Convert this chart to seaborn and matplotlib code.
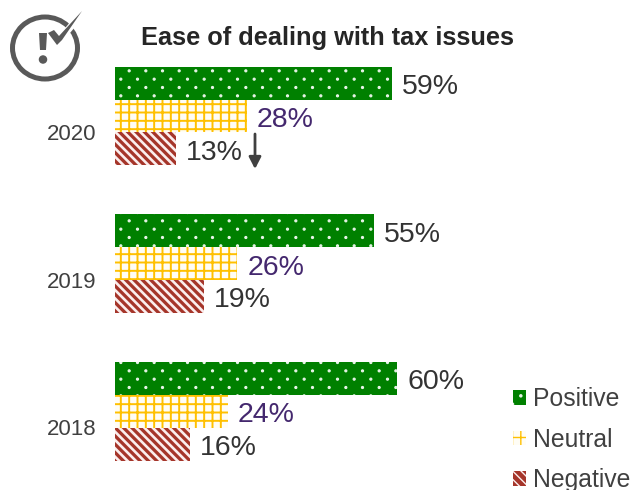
import numpy as np
import pandas as pd
import matplotlib
matplotlib.use("Agg")
import matplotlib.pyplot as plt
import matplotlib.hatch as mhatch
from matplotlib.patches import Ellipse, Patch
from matplotlib.path import Path
import seaborn as sns

years = ["2020", "2019", "2018"]
positive = [59, 55, 60]
neutral = [28, 26, 24]
negative = [13, 19, 16]
sentiments = ["Positive", "Neutral", "Negative"]
label_colors = ["#333333", "#44286e", "#333333"]
title = "Ease of dealing with tax issues"


class SparseDots(mhatch.HatchPatternBase):
    """Small round dots, staggered on alternate rows."""

    def __init__(self, hatch, density):
        self.num_rows = hatch.count(".") * density * 2
        self.columns = self.num_rows // 2
        self.radius = 0.0105
        self.num_vertices = 0
        if self.num_rows:
            self.centers = []
            for row in range(self.num_rows):
                shift = 0.25 + 0.5 * (row % 2)
                for col in range(self.columns):
                    self.centers.append(((col + shift) / self.columns,
                                         (row + 0.5) / self.num_rows))
            self.unit = Path.unit_circle()
            self.num_vertices = len(self.centers) * len(self.unit.vertices)

    def set_vertices_and_codes(self, vertices, codes):
        n = len(self.unit.vertices)
        for i, (cx, cy) in enumerate(self.centers):
            vertices[i * n:(i + 1) * n] = self.unit.vertices * self.radius + (cx, cy)
            codes[i * n:(i + 1) * n] = self.unit.codes


mhatch._hatch_types = [SparseDots if c is mhatch.SmallFilledCircles else c
                       for c in mhatch._hatch_types]

sns.set_style("white")
plt.rcParams["font.family"] = ["Liberation Sans", "DejaVu Sans"]

table = pd.DataFrame({
    "year": years * 3,
    "sentiment": np.repeat(sentiments, 3),
    "share": positive + neutral + negative,
})

fig = plt.figure(figsize=(6.34, 4.9), dpi=100)
W, H = 634, 490
ax = fig.add_axes([115 / W, 0, 519 / W, 1])

# Per-series fill treatment: (face, hatch colour, hatch, hatch width)
styles = [("#008000", "#e8f4e8", ".", 0.8),
          ("#fffdf5", "#ffc000", "++", 1.4),
          ("#a5352a", "#fbeeee", "\\\\\\\\", 1.9)]

sns.barplot(data=table, y="year", x="share", hue="sentiment", order=years,
            hue_order=sentiments, palette=[s[0] for s in styles], width=0.667,
            gap=0, saturation=1, orient="h", legend=False, ax=ax)

handles = []
for container, name, (face, ink, hatch, lw), txt in zip(ax.containers, sentiments, styles, label_colors):
    for bar in container:
        bar.set_facecolor(face)
        bar.set_edgecolor(ink)
        bar.set_hatch(hatch)
        bar.set_linewidth(0)
        bar.set_hatch_linewidth(lw)
    for note in ax.bar_label(container, fmt="%g%%", padding=7.2, fontsize=20.5, color=txt):
        note.xyann = (note.xyann[0], -2.8)
    handle = Patch(facecolor=face, edgecolor=ink, hatch=hatch, linewidth=0, label=name)
    handle.set_hatch_linewidth(lw)
    handles.append(handle)

ax.set_xlim(0, 519 / 4.7)
ax.set_ylim((H - 116) / 147.7, -116 / 147.7)
ax.set_yticks(np.arange(len(years)) + 0.107, years)
ax.tick_params(axis="y", length=0, pad=13.5, labelsize=16, labelcolor="#404040")
ax.set_xticks([])
ax.set_xlabel("")
ax.set_ylabel("")
ax.patch.set_alpha(0)
sns.despine(ax=ax, left=True, bottom=True)

ax.legend(handles=handles, loc="lower left",
          bbox_to_anchor=((513 - 115) / 519, -0.005), frameon=False,
          fontsize=17.8, labelcolor="#404040", handlelength=0.52,
          handleheight=0.52, handletextpad=0.28, labelspacing=0.67,
          borderpad=0, borderaxespad=0)

# Drop arrow beside the 2020 negative value
ax.annotate("", xy=(140 / 4.7, (169 - 116) / 147.7),
            xytext=(140 / 4.7, (134 - 116) / 147.7),
            arrowprops=dict(arrowstyle="-|>,head_width=0.36,head_length=0.7",
                            color="#404040", lw=2, shrinkA=0, shrinkB=0))

fig.text(141 / W, 1 - 37.5 / H, title, fontsize=18.3, fontweight="bold",
         color="#262626", va="center", ha="left")

# Alert badge in the top-left corner, laid out in pixel units
badge = fig.add_axes([0, 0, 1, 1], facecolor="none")
badge.set_xlim(0, W)
badge.set_ylim(H, 0)
badge.axis("off")
grey = "#595959"
badge.add_patch(Ellipse((45, 48), 65, 62, fill=False, edgecolor=grey, lw=3.6, zorder=1))
badge.add_patch(Ellipse((43, 59.5), 8.5, 8.5, color=grey, lw=0, zorder=1))
badge.fill([39, 47, 46, 40], [33, 33, 50, 50], color=grey, lw=0, zorder=1)
# White halo separates the tick from the ring, then the tick itself
badge.plot([50, 58, 83], [33, 42, 12], color="white", lw=5, solid_capstyle="butt", zorder=2)
badge.fill([48, 54, 59, 82, 62, 57], [33, 30, 36, 11, 40, 45], color=grey, lw=0, zorder=3)

fig.savefig("out.png", dpi=100)
